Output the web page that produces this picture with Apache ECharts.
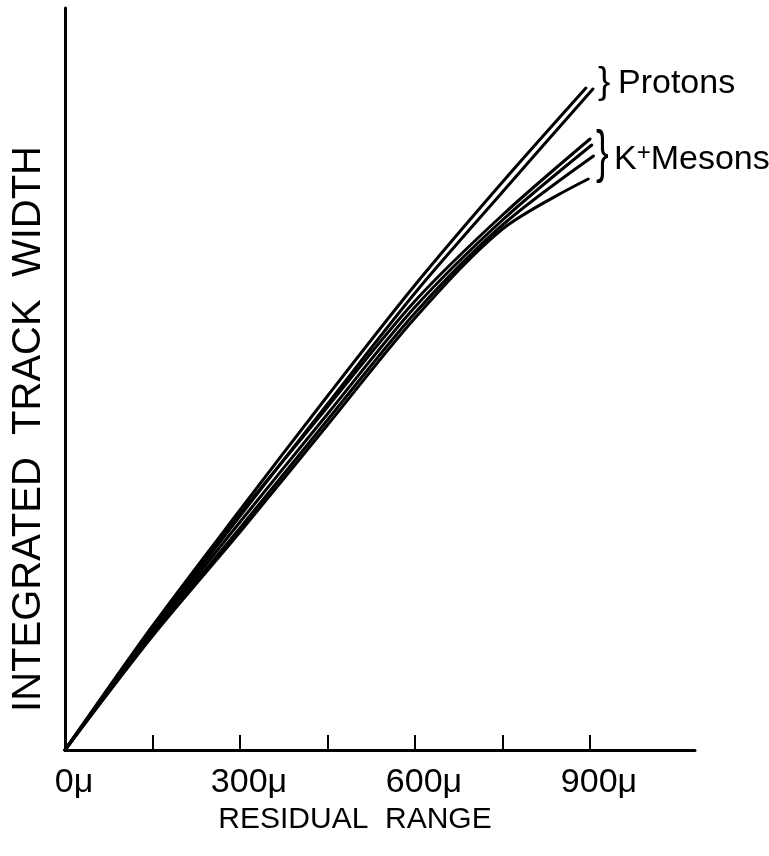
<!DOCTYPE html>
<html>
<head>
<meta charset="utf-8">
<script src="https://cdn.jsdelivr.net/npm/echarts@6/dist/echarts.min.js"></script>
<style>
  html, body { margin: 0; padding: 0; background: #ffffff; }
  #chart { width: 769px; height: 856px; }
</style>
</head>
<body>
<div id="chart"></div>
<script>
// Residual range (micron) sample points and integrated track width (arbitrary units) for each track
const protonA_x = [0, 150, 300, 450, 600, 750, 893];
const protonA_y = [0, 124, 240, 354, 465, 568, 662];
const protonB_x = [0, 150, 300, 450, 600, 750, 905];
const protonB_y = [0, 120, 234, 346, 457, 558, 661];
const kaonA_x = [0, 150, 300, 450, 600, 750, 900];
const kaonA_y = [0, 122, 236, 343, 449, 535, 611];
const kaonB_x = [0, 150, 300, 450, 600, 750, 903];
const kaonB_y = [0, 118, 228, 336, 443, 530, 605];
const kaonC_x = [0, 150, 300, 450, 600, 750, 906];
const kaonC_y = [0, 116, 222, 330, 437, 525, 594];
const kaonD_x = [0, 150, 300, 450, 600, 750, 897];
const kaonD_y = [0, 114, 218, 325, 432, 521, 571];

const xTicks = [150, 300, 450, 600, 750, 900];
const xTickLabels = [0, 300, 600, 900];
const xAxisTitle = 'RESIDUAL  RANGE';
const yAxisTitle = 'INTEGRATED  TRACK  WIDTH';
const protonLabel = 'Protons';
const kaonLabel = 'Mesons';

function pairs(xs, ys) { return xs.map((x, i) => [x, ys[i]]); }

const tracks = [
  { name: 'Proton 1', x: protonA_x, y: protonA_y },
  { name: 'Proton 2', x: protonB_x, y: protonB_y },
  { name: 'K+ 1', x: kaonA_x, y: kaonA_y },
  { name: 'K+ 2', x: kaonB_x, y: kaonB_y },
  { name: 'K+ 3', x: kaonC_x, y: kaonC_y },
  { name: 'K+ 4', x: kaonD_x, y: kaonD_y }
];

const FONT = '"Liberation Sans", Arial, Helvetica, sans-serif';
const chart = echarts.init(document.getElementById('chart'), null, { renderer: 'canvas' });

chart.setOption({
  animation: false,
  backgroundColor: '#ffffff',
  grid: { left: 65, right: 74, top: 8, bottom: 106, containLabel: false },
  xAxis: {
    type: 'value',
    min: 0,
    max: 1080,
    interval: 150,
    name: xAxisTitle,
    nameLocation: 'middle',
    nameGap: 55,
    nameTextStyle: { color: '#000', fontFamily: FONT, fontSize: 30, padding: [0, 50, 0, 0] },
    axisLine: { show: true, onZero: false, lineStyle: { color: '#000', width: 3 } },
    axisTick: { show: true, inside: true, length: 15, customValues: xTicks, lineStyle: { color: '#000', width: 2 } },
    axisLabel: {
      show: true,
      customValues: xTickLabels,
      formatter: v => v + 'μ',
      color: '#000',
      fontFamily: FONT,
      fontSize: 34,
      margin: 16,
      padding: [0, 0, 0, 18]
    },
    splitLine: { show: false }
  },
  yAxis: {
    type: 'value',
    min: 0,
    max: 742,
    name: yAxisTitle,
    nameLocation: 'middle',
    nameRotate: 90,
    nameGap: 16,
    nameTextStyle: { color: '#000', fontFamily: FONT, fontSize: 40, padding: [0, 100, 0, 0] },
    axisLine: { show: true, onZero: false, lineStyle: { color: '#000', width: 3 } },
    axisTick: { show: false },
    axisLabel: { show: false },
    splitLine: { show: false }
  },
  series: tracks.map(t => ({
    name: t.name,
    type: 'line',
    data: pairs(t.x, t.y),
    smooth: 0.3,
    symbol: 'none',
    lineStyle: { color: '#000', width: 3, cap: 'round' }
  })),
  graphic: [
    { type: 'text', left: 598, top: 64, style: { text: '}', fontFamily: FONT, fontSize: 37, fill: '#000' } },
    { type: 'text', left: 618, top: 67, style: { text: protonLabel, fontFamily: FONT, fontSize: 34, fill: '#000' } },
    { type: 'text', left: 596, top: 127, scaleY: 1.5, style: { text: '}', fontFamily: FONT, fontSize: 38, fill: '#000' } },
    { type: 'text', left: 614, top: 141, style: {
        text: '{k|K}{s|+}{k|' + kaonLabel + '}',
        rich: {
          k: { fontFamily: FONT, fontSize: 34, fill: '#000', color: '#000' },
          s: { fontFamily: FONT, fontSize: 24, fill: '#000', color: '#000', verticalAlign: 'top', padding: [0, 0, 14, 0] }
        }
      } }
  ]
});
</script>
</body>
</html>
